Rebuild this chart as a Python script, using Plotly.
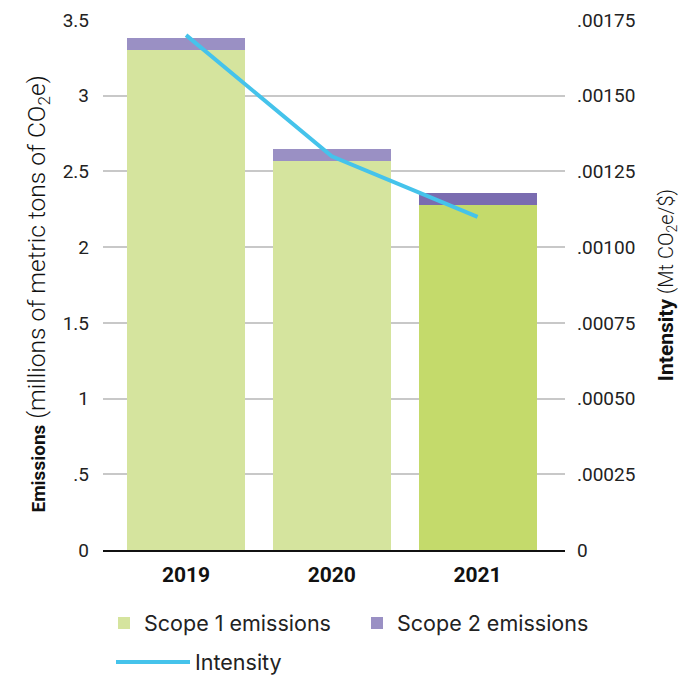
import plotly.graph_objects as go

years = ["2019", "2020", "2021"]
scope1 = [3.30, 2.57, 2.28]
scope2 = [0.08, 0.08, 0.08]
intensity = [0.00170, 0.00130, 0.00110]

scope1_colors = ["#d5e49e", "#d5e49e", "#c4da6b"]
scope2_colors = ["#9a90c4", "#9a90c4", "#7a6cb0"]

left_tickvals = [0, 0.5, 1, 1.5, 2, 2.5, 3, 3.5]
left_ticktext = ["0", ".5", "1", "1.5", "2", "2.5", "3", "3.5"]
right_tickvals = [0, 0.00025, 0.0005, 0.00075, 0.001, 0.00125, 0.0015, 0.00175]
right_ticktext = ["0", ".00025", ".00050", ".00075", ".00100", ".00125", ".00150", ".00175"]

FONT = "Roboto"
LEGFONT = "Inter"

W, H = 678, 668  # page body has an 8px margin

fig = go.Figure()
fig.add_trace(go.Bar(x=years, y=scope1, name="Scope 1 emissions",
                     marker=dict(color=scope1_colors, line=dict(width=0)),
                     width=0.81, legend="legend"))
fig.add_trace(go.Bar(x=years, y=scope2, name="Scope 2 emissions",
                     marker=dict(color=scope2_colors, line=dict(width=0)),
                     width=0.81, legend="legend3"))
fig.add_trace(go.Scatter(x=years, y=intensity, name="Intensity", yaxis="y2",
                         mode="lines", line=dict(color="#45c3eb", width=4),
                         legend="legend2"))

left_title = ("<span style='font-size:19px'><b>Emissions</b></span> "
              "(millions of metric tons of CO<sub>2</sub>e)&nbsp;&nbsp;&nbsp;")
right_title = ("<span style='font-size:21px'><b>Intensity</b></span> "
               "(Mt CO<sub>2</sub>e/$)")

leg_common = dict(orientation="h", xref="container", yref="container",
                  xanchor="left", yanchor="middle",
                  font=dict(family=LEGFONT, size=21.5, color="#222222"),
                  bgcolor="rgba(0,0,0,0)")

fig.update_layout(
    width=W, height=H,
    margin=dict(l=95, r=121, t=12, b=126, autoexpand=False),
    barmode="stack",
    plot_bgcolor="white", paper_bgcolor="white",
    font=dict(family=FONT, color="#222222", size=18),
    xaxis=dict(
        type="category", range=[-0.57, 2.6], automargin=False,
        showline=True, linecolor="#111111", linewidth=1.5,
        showgrid=False, ticks="", tickfont=dict(family=FONT, size=21, color="#111111", weight="bold"),
        ticklabelstandoff=5,
    ),
    yaxis=dict(
        range=[0, 3.5], tickvals=left_tickvals, ticktext=left_ticktext, automargin=False,
        showgrid=True, gridcolor="#c8c8c8", gridwidth=1.5,
        zeroline=False, ticks="", ticklabelstandoff=13,
        tickfont=dict(family=FONT, size=19, color="#222222"),
        title=dict(text=left_title,
                   font=dict(family=FONT, size=24.5, color="#111111", weight=300), standoff=10),
    ),
    yaxis2=dict(
        overlaying="y", side="right", automargin=False,
        range=[0, 0.00175], tickvals=right_tickvals, ticktext=right_ticktext,
        showgrid=False, zeroline=False, ticks="", ticklabelstandoff=11,
        tickfont=dict(family=FONT, size=19, color="#222222"),
        title=dict(text=right_title,
                   font=dict(family=FONT, size=20, color="#111111", weight=300), standoff=24),
    ),
    legend=dict(leg_common, x=96 / W, y=1 - 615 / H),
    legend3=dict(leg_common, x=349 / W, y=1 - 615 / H),
    legend2=dict(leg_common, x=103 / W, y=1 - 654 / H, itemwidth=74),
    showlegend=True,
)

fig.write_html("out.html")
